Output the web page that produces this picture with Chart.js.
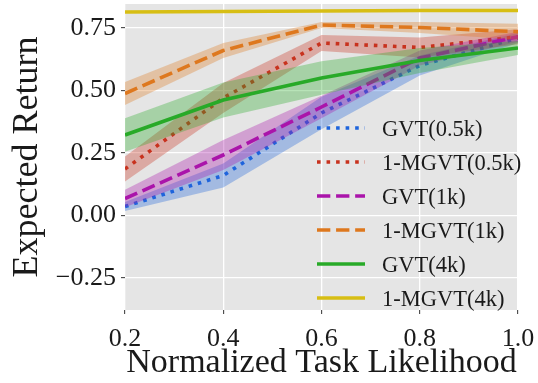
<!DOCTYPE html>
<html><head><meta charset="utf-8">
<script src="https://cdn.jsdelivr.net/npm/chart.js@4.4.1/dist/chart.umd.min.js"></script>
<style>html,body{margin:0;padding:0;background:#fff}#wrap{width:538px;height:383px}</style>
</head><body><div id="wrap"><canvas id="c" width="538" height="383"></canvas></div>
<script>
const xValues = [0.2, 0.4, 0.6, 0.8, 1.0];
const xTicks = [0.2, 0.4, 0.6, 0.8, 1.0];
const yTicks = [-0.25, 0.0, 0.25, 0.5, 0.75];
const seriesNames = ['GVT(0.5k)', '1-MGVT(0.5k)', 'GVT(1k)', '1-MGVT(1k)', 'GVT(4k)', '1-MGVT(4k)'];
const gvt05 = [0.036, 0.16, 0.41, 0.60, 0.71];
const gvt05Err = [0.018, 0.048, 0.065, 0.04, 0.02];
const mgvt05 = [0.186, 0.47, 0.69, 0.672, 0.715];
const mgvt05Err = [0.05, 0.06, 0.032, 0.04, 0.03];
const gvt1 = [0.068, 0.242, 0.434, 0.63, 0.715];
const gvt1Err = [0.035, 0.06, 0.045, 0.03, 0.02];
const mgvt1 = [0.488, 0.66, 0.762, 0.752, 0.735];
const mgvt1Err = [0.046, 0.03, 0.012, 0.022, 0.032];
const gvt4 = [0.322, 0.462, 0.55, 0.62, 0.67];
const gvt4Err = [0.067, 0.07, 0.067, 0.05, 0.028];
const mgvt4 = [0.814, 0.816, 0.818, 0.82, 0.82];
const mgvt4Err = [0.004, 0.004, 0.004, 0.004, 0.004];

const means = [gvt05, mgvt05, gvt1, mgvt1, gvt4, mgvt4];
const errs = [gvt05Err, mgvt05Err, gvt1Err, mgvt1Err, gvt4Err, mgvt4Err];
const colors = [[30,100,220],[200,50,30],[170,20,170],[222,120,30],[40,170,40],[215,190,20]];
const LW = 3.6;
const dashes = [[LW, LW*1.65],[LW, LW*1.65],[LW*3.7, LW*1.6],[LW*3.7, LW*1.6],[],[]];

const datasets = [];
let ord = 1000;
means.forEach((m, i) => {
  const c = colors[i];
  const lowerIdx = datasets.length;
  datasets.push({label: '_lo'+i, data: xValues.map((x,k)=>({x, y: m[k]-errs[i][k]})),
    borderWidth: 0, pointRadius: 0, fill: false, order: ord--, tension: 0});
  datasets.push({label: '_hi'+i, data: xValues.map((x,k)=>({x, y: m[k]+errs[i][k]})),
    borderWidth: 0, pointRadius: 0, fill: {target: lowerIdx}, backgroundColor: `rgba(${c[0]},${c[1]},${c[2]},0.33)`, order: ord--, tension: 0});
  datasets.push({label: seriesNames[i], data: xValues.map((x,k)=>({x, y: m[k]})),
    borderColor: `rgb(${c[0]},${c[1]},${c[2]})`, borderWidth: LW, borderDash: dashes[i], borderCapStyle: 'butt',
    pointRadius: 0, fill: false, order: ord--, tension: 0});
});

const bgPlugin = {
  id: 'bg',
  beforeDraw(chart) {
    const {ctx, chartArea: a} = chart;
    ctx.save(); ctx.fillStyle = '#e5e5e5';
    ctx.fillRect(a.left, a.top, a.right - a.left, a.bottom - a.top);
    ctx.restore();
  }
};
const legendPlugin = {
  id: 'mylegend',
  afterDraw(chart) {
    const ctx = chart.ctx;
    ctx.save();
    ctx.font = '22.5px "Liberation Serif"';
    ctx.textBaseline = 'middle';
    ctx.fillStyle = '#1a1a1a';
    seriesNames.forEach((name, i) => {
      const y = 128 + i * 34;
      const c = colors[i];
      ctx.strokeStyle = `rgb(${c[0]},${c[1]},${c[2]})`;
      ctx.lineWidth = LW; ctx.lineCap = 'butt';
      ctx.setLineDash(dashes[i]);
      ctx.beginPath(); ctx.moveTo(317, y); ctx.lineTo(365, y); ctx.stroke();
      ctx.setLineDash([]);
      ctx.fillText(name, 382, y + 2);
    });
    ctx.restore();
  }
};

new Chart(document.getElementById('c'), {
  type: 'line',
  data: {datasets},
  options: {
    responsive: false, animation: false,
    layout: {padding: {top: 4, right: 20, left: 0, bottom: 0}},
    plugins: {legend: {display: false}, tooltip: {enabled: false}},
    scales: {
      x: {
        type: 'linear', min: 0.2, max: 1.0,
        afterBuildTicks: s => { s.ticks = xTicks.map(v => ({value: v})); },
        afterFit: s => { s.height = 73; s.paddingLeft = 0; s.paddingRight = 0; },
        border: {display: false},
        grid: {color: '#ffffff', lineWidth: 1.3, tickColor: '#333', tickLength: 4, tickWidth: 1},
        ticks: {color: '#1a1a1a', font: {family: 'Liberation Serif', size: 26}, padding: 10,
          callback: v => v.toFixed(1), maxRotation: 0},
        title: {display: true, text: 'Normalized Task Likelihood', color: '#1a1a1a',
          font: {family: 'Liberation Serif', size: 34}, padding: {top: 0, bottom: 0}}
      },
      y: {
        type: 'linear', min: -0.378, max: 0.846,
        afterBuildTicks: s => { s.ticks = yTicks.map(v => ({value: v})); },
        afterFit: s => { s.width = 125; s.paddingTop = 0; s.paddingBottom = 0; },
        border: {display: false},
        grid: {color: '#ffffff', lineWidth: 1.3, tickColor: '#333', tickLength: 4, tickWidth: 1},
        ticks: {color: '#1a1a1a', font: {family: 'Liberation Serif', size: 26}, padding: 5,
          callback: v => (v < 0 ? '\u2212' + Math.abs(v).toFixed(2) : v.toFixed(2))},
        title: {display: true, text: 'Expected Return', color: '#1a1a1a',
          font: {family: 'Liberation Serif', size: 36}, padding: {top: 6, bottom: 0}}
      }
    }
  },
  plugins: [bgPlugin, legendPlugin]
});
</script></body></html>
